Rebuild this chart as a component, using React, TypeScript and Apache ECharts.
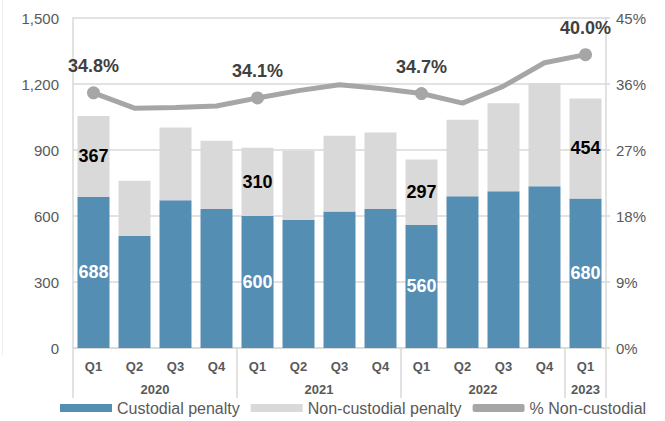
import React, { useEffect, useRef } from "react";
import * as echarts from "echarts";

const categories = [
  "2020 Q1", "2020 Q2", "2020 Q3", "2020 Q4",
  "2021 Q1", "2021 Q2", "2021 Q3", "2021 Q4",
  "2022 Q1", "2022 Q2", "2022 Q3", "2022 Q4",
  "2023 Q1",
];
const years = ["2020", "2021", "2022", "2023"];
const custodial = [688, 510, 672, 632, 600, 582, 620, 632, 560, 690, 712, 735, 680];
const nonCustodial = [367, 250, 330, 310, 310, 315, 345, 348, 297, 348, 400, 468, 454];
const pctNonCustodial = [34.8, 32.7, 32.8, 33.0, 34.1, 35.1, 35.9, 35.4, 34.7, 33.4, 35.7, 38.9, 40.0];
const labeledIdx = [0, 4, 8, 12];
const leftTicks = { min: 0, max: 1500, interval: 300 };
const rightTicks = { min: 0, max: 45, interval: 9 };

const FONT = "'Liberation Sans', Arial, sans-serif";
const BLUE = "#558eb3";
const LIGHT = "#d9d9d9";
const LINE = "#a6a6a6";
const AXIS_TXT = "#595959";

export default function App() {
  const ref = useRef<HTMLDivElement>(null);
  useEffect(() => {
    document.body.style.margin = "0";
    if (!ref.current) return;
    const chart = echarts.init(ref.current, null, { renderer: "svg" });
    const yearOf = (c: string) => c.split(" ")[0];
    const boundaries: number[] = [];
    categories.forEach((c, i) => {
      if (i === 0 || yearOf(categories[i - 1]) !== yearOf(c)) boundaries.push(i);
    });
    boundaries.push(categories.length);

    chart.setOption({
      animation: false,
      textStyle: { fontFamily: FONT },
      grid: { left: 73, right: 59, top: 18, bottom: 73, containLabel: false },
      legend: {
        left: 60,
        top: 400,
        padding: 0,
        itemWidth: 52,
        itemHeight: 8,
        itemGap: 11,
        textStyle: { fontSize: 16, color: AXIS_TXT, fontFamily: FONT },
        data: [
          { name: "Custodial penalty", icon: "rect" },
          { name: "Non-custodial penalty", icon: "rect" },
          { name: "% Non-custodial", icon: "roundRect" },
        ],
      },
      xAxis: {
        type: "category",
        data: categories,
        axisLine: { show: true, lineStyle: { color: LIGHT, width: 1.5 } },
        axisTick: {
          show: true,
          length: 50,
          lineStyle: { color: LIGHT, width: 1.5 },
          interval: (i: number) => boundaries.includes(i),
        },
        axisLabel: {
          formatter: (v: string) => v.split(" ")[1],
          fontSize: 13,
          fontWeight: "bold",
          color: AXIS_TXT,
          margin: 12,
          fontFamily: FONT,
        },
      },
      yAxis: [
        {
          type: "value",
          ...leftTicks,
          axisLine: { show: true, lineStyle: { color: LIGHT, width: 1.5 } },
          axisTick: { show: false },
          splitLine: { show: true, lineStyle: { color: LIGHT, width: 1.5 } },
          axisLabel: {
            formatter: (v: number) => v.toLocaleString("en-US"),
            fontSize: 15,
            color: AXIS_TXT,
            margin: 14,
            fontFamily: FONT,
          },
        },
        {
          type: "value",
          ...rightTicks,
          position: "right",
          axisLine: { show: true, lineStyle: { color: LIGHT, width: 1.5 } },
          axisTick: { show: true, length: 4, lineStyle: { color: LIGHT, width: 1.5 } },
          splitLine: { show: false },
          axisLabel: {
            formatter: "{value}%",
            fontSize: 15,
            color: AXIS_TXT,
            margin: 10,
            fontFamily: FONT,
          },
        },
      ],
      series: [
        {
          name: "Custodial penalty",
          type: "bar",
          stack: "total",
          barCategoryGap: "22%",
          itemStyle: { color: BLUE },
          label: {
            position: "inside",
            color: "#ffffff",
            fontSize: 18,
            fontWeight: "bold",
            fontFamily: FONT,
          },
          data: custodial.map((v, i) => ({
            value: v,
            label: { show: labeledIdx.includes(i) },
          })),
        },
        {
          name: "Non-custodial penalty",
          type: "bar",
          stack: "total",
          itemStyle: { color: LIGHT },
          label: {
            position: "inside",
            color: "#000000",
            fontSize: 18,
            fontWeight: "bold",
            fontFamily: FONT,
          },
          data: nonCustodial.map((v, i) => ({
            value: v,
            label: { show: labeledIdx.includes(i) },
          })),
        },
        {
          name: "% Non-custodial",
          type: "line",
          yAxisIndex: 1,
          z: 5,
          lineStyle: { color: LINE, width: 5 },
          itemStyle: { color: LINE },
          symbol: "circle",
          symbolSize: 13,
          label: {
            position: "top",
            distance: 11,
            color: "#404040",
            fontSize: 18,
            fontWeight: "bold",
            fontFamily: FONT,
            formatter: (p: any) => p.value.toFixed(1) + "%",
          },
          data: pctNonCustodial.map((v, i) =>
            labeledIdx.includes(i)
              ? { value: v, label: { show: true } }
              : { value: v, symbol: "none", label: { show: false } }
          ),
        },
      ],
    });

    const groups: { name: string; start: number; end: number }[] = [];
    for (let g = 0; g < boundaries.length - 1; g++) {
      groups.push({ name: years[g], start: boundaries[g], end: boundaries[g + 1] - 1 });
    }
    const graphics: any[] = groups.map((g) => {
      const x0 = chart.convertToPixel({ xAxisIndex: 0 }, g.start) as number;
      const x1 = chart.convertToPixel({ xAxisIndex: 0 }, g.end) as number;
      return {
        type: "text",
        x: (x0 + x1) / 2,
        y: 389,
        style: {
          text: g.name,
          fill: AXIS_TXT,
          font: `bold 13px ${FONT}`,
          textAlign: "center",
          textVerticalAlign: "middle",
        },
      };
    });
    graphics.push({
      type: "line",
      shape: { x1: 2.5, y1: 0, x2: 2.5, y2: 355 },
      style: { stroke: "#eeeeee", lineWidth: 1 },
    });
    chart.setOption({ graphic: graphics });

    return () => chart.dispose();
  }, []);
  return <div ref={ref} style={{ width: 665, height: 421 }} />;
}
